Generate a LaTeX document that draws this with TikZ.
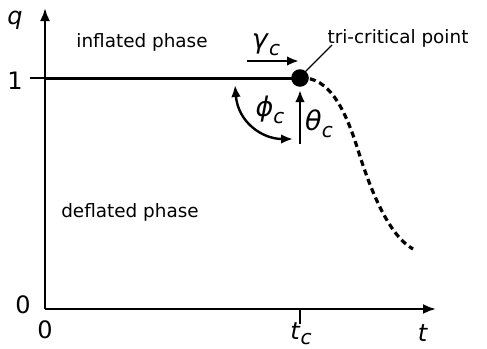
\documentclass[tikz,border=0pt]{standalone}
\usepackage{fontspec}
\setmainfont{DejaVu Sans}
\usetikzlibrary{arrows.meta}
\newcommand{\sub}[2]{\textit{#1}\raisebox{-0.45ex}{\fontsize{10}{11}\selectfont\textit{#2}}}
\tikzset{
	txt/.style = {font=\fontsize{9.2}{11}\selectfont},
	big/.style = {font=\fontsize{12}{14}\selectfont},
	greek/.style = {font=\fontsize{13.5}{15}\selectfont},
	axis/.style = {line width=1.2pt},
	tip/.style = {-{Latex[length=6pt,width=4.8pt]}},
}
\begin{document}
\begin{tikzpicture} [x = 0.5pt, y = -0.5pt]
	\useasboundingbox (0,0) rectangle (487,348);
	% axes
	\coordinate (O) at (45,309);
	\coordinate (xend) at (436,309);
	\coordinate (yend) at (45,8);
	\draw [axis, -{Latex[length=6.5pt,width=5pt]}] (O) -- (xend);
	\draw [axis, -{Latex[length=6.5pt,width=5pt]}] (O) -- (yend);
	\coordinate (one) at (45,78);
	\coordinate (onetick) at (30,78);
	\draw [axis] (onetick) -- (one);
	\coordinate (tc) at (300,309);
	\coordinate (tctick) at (300,324);
	\draw [axis] (tc) -- (tctick);
	% axis labels
	\node [big] (q) at (15,20) {\textit{q}};
	\node [big] (lone) at (15,81) {1};
	\node [big] (lzeroy) at (23,305) {0};
	\node [big] (lzerox) at (45,330) {0};
	\node [big] (lt) at (423,333) {\textit{t}};
	\node [big, anchor=base] (ltc) at (301,339) {\sub{t}{c}};
	% phase line
	\coordinate (P) at (300,78);
	\draw [line width=1.5pt] (one) -- (P);
	\draw [line width=1.6pt, dash pattern=on 3pt off 2pt] (P) .. controls (330,76) and (346,112) .. (358,150) .. controls (372,195) and (390,236) .. (413,249);
	\fill (P) circle (4.4pt);
	% regions
	\node [txt] (inflated) at (142,42) {inflated phase};
	\node [txt] (deflated) at (130,212) {deflated phase};
	\node [txt] (tri) at (398,38) {tri-critical point};
	\coordinate (tripin) at (332,45);
	\coordinate (triend) at (305,72);
	\draw [line width=0.6pt] (tripin) -- (triend);
	% exponents
	\coordinate (ga) at (247,61);
	\coordinate (gb) at (299,61);
	\draw [line width=1.2pt, tip] (ga) -- (gb);
	\node [greek] (gamma) at (266,45) {\sub{γ}{c}};
	\coordinate (tha) at (300,144);
	\coordinate (thb) at (300,90);
	\draw [line width=1.2pt, tip] (tha) -- (thb);
	\node [greek] (theta) at (319,124) {\sub{θ}{c}};
	\coordinate (pha) at (235,85);
	\coordinate (phb) at (293,139);
	\draw [line width=1.2pt, {Latex[length=6pt,width=4.8pt]}-{Latex[length=6pt,width=4.8pt]}] (pha) .. controls (238,122) and (262,139) .. (phb);
	\node [greek] (phi) at (270,110) {\sub{ϕ}{c}};
\end{tikzpicture}
\end{document}
